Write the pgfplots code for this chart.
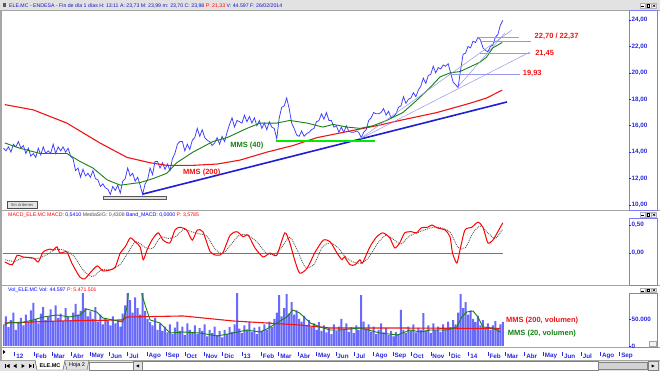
\documentclass[border=0pt]{standalone}
\usepackage{fontspec}
\setmainfont{Liberation Sans}
\usepackage{pgfplots}
\pgfplotsset{compat=1.18}
\usepackage{pgfplotstable}
\definecolor{axblue}{RGB}{40,40,225}
\definecolor{pricecol}{RGB}{60,60,255}
\definecolor{mmsgreen}{RGB}{20,130,20}
\definecolor{mmsred}{RGB}{240,20,20}
\definecolor{trendblue}{RGB}{30,30,215}
\definecolor{supgreen}{RGB}{0,235,0}
\definecolor{fanblue}{RGB}{150,150,235}
\definecolor{frame}{RGB}{165,165,165}
\definecolor{barbg}{RGB}{226,226,226}
\definecolor{volblue}{RGB}{105,105,250}
\definecolor{boxblue}{RGB}{125,125,250}
\definecolor{titleblue}{RGB}{20,20,200}
\definecolor{zeroblue}{RGB}{100,100,245}
\newcommand\titlefont{\fontsize{5.2}{6}\selectfont}
\newcommand\tickfont{\fontsize{6.3}{7}\selectfont\bfseries}
\newcommand\lblfont{\fontsize{7.5}{8}\selectfont\bfseries}
\newcommand\winbtns[1]{%
\begin{scope}[shift={(0pt,#1pt)}]
\foreach \bx in {640,645.7,651.4}{\draw[gray!60,fill=gray!8,line width=0.3pt] (\bx pt,0pt) rectangle ++(5pt,4.5pt);}
\draw[black,line width=0.7pt] (641.2pt,1.2pt) -- (643.8pt,1.2pt);
\draw[black,line width=0.5pt] (646.9pt,1pt) rectangle (649.5pt,3.5pt);
\draw[black,line width=0.5pt] (652.6pt,1pt) -- (655.2pt,3.5pt) (652.6pt,3.5pt) -- (655.2pt,1pt);
\end{scope}}
\pgfplotsset{panel/.style={scale only axis, width=626pt, xmin=-18.8, xmax=989.2,
  anchor=south west, axis line style={draw=none}, xtick=\empty,
  ytick pos=right, yticklabel pos=right, tick align=outside, major tick length=2pt,
  ytick style={draw=axblue, line width=0.6pt},
  yticklabel style={font=\tickfont, text=axblue, anchor=west, inner sep=0.5pt},
  /pgf/number format/assume math mode=true}}
\begin{document}
\pgfplotstableread{
d p
-18 14.3
-14 14.1
-10 14.4
-6 14.0
-2 14.6
2 14.4
6 14.8
10 14.3
14 14.5
18 13.9
22 14.3
26 13.7
30 13.9
34 13.6
38 14.3
42 13.8
46 14.4
50 13.9
54 14.1
58 13.9
62 14.6
66 13.9
70 14.4
74 14.1
78 14.4
82 14.0
86 14.3
90 13.7
94 13.5
98 12.6
102 12.8
106 12.1
110 12.7
114 12.2
118 12.4
122 12.1
126 12.6
130 12.0
134 11.9
138 11.4
142 11.6
146 11.3
150 11.2
154 10.8
158 11.4
162 11.1
166 11.5
170 10.9
174 11.8
178 12.0
182 12.8
186 12.2
190 12.4
194 11.8
198 12.1
202 11.5
206 10.8
210 11.6
214 11.9
218 12.8
222 12.3
226 13.3
230 13.3
234 12.8
238 13.2
242 12.7
246 13.1
250 12.6
254 13.5
258 13.9
262 14.6
266 14.8
270 14.8
274 14.1
278 14.6
282 14.2
286 14.9
290 15.1
294 15.8
298 15.2
302 15.7
306 15.1
310 14.9
314 14.8
318 14.5
322 14.7
326 15.1
330 14.6
334 15.2
338 14.8
342 15.5
346 16.1
350 16.6
354 15.9
358 16.4
362 16.3
366 16.2
370 16.8
374 16.3
378 16.7
382 16.2
386 16.6
390 16.0
394 16.4
398 15.8
402 16.2
406 15.7
410 16.3
414 15.9
418 15.8
422 15.0
426 16.6
430 17.4
434 17.5
438 18.1
442 17.3
446 16.2
450 15.8
454 15.3
458 15.2
462 15.6
466 15.2
470 15.4
474 15.5
478 15.7
482 15.8
486 16.3
490 16.4
494 16.9
498 16.5
502 17.0
506 16.4
510 16.4
514 15.9
518 16.0
522 15.5
526 15.9
530 15.5
534 16.0
538 15.6
542 15.5
546 15.5
550 15.6
554 15.5
558 15.1
562 15.5
566 15.7
570 16.4
574 16.6
578 17.0
582 16.9
586 16.9
590 17.0
594 17.3
598 16.8
602 17.1
606 16.6
610 16.7
614 16.9
618 17.4
622 17.5
626 18.2
630 17.7
634 18.0
638 18.1
642 18.5
646 18.2
650 18.7
654 19.0
658 19.6
662 19.2
666 19.8
670 19.9
674 20.5
678 20.0
682 20.4
686 20.3
690 20.6
694 20.5
698 20.7
702 20.0
706 19.3
710 19.1
714 18.9
718 20.2
722 21.4
726 21.5
730 22.0
734 21.9
738 22.4
742 22.3
746 22.7
750 22.5
754 21.9
758 21.7
762 21.6
766 22.0
770 22.1
774 22.7
778 22.9
782 23.6
786 23.98
}\price
\pgfplotstableread{
d p
-16 14.7
8 14.3
41 13.9
84 13.9
105 13.3
126 12.8
149 11.9
170 11.5
202 11.7
223 12.0
245 12.4
261 13.2
287 14.0
319 14.8
342 15.1
374 15.8
395 16.2
422 16.2
443 16.4
471 16.2
496 15.9
513 16.1
535 15.9
556 15.8
577 16.0
599 16.4
625 17.0
648 17.95
669 18.9
685 19.7
701 20.0
717 20.1
733 20.45
749 20.8
760 21.2
770 21.9
785 22.3
}\mmsforty
\pgfplotstableread{
d p
-16 17.6
30 17.2
84 16.2
137 14.7
181 13.6
218 13.2
245 13.0
287 13.0
326 13.1
363 13.4
406 14.0
448 14.5
487 15.1
524 15.45
556 15.75
588 16.05
620 16.4
680 17.0
733 17.7
760 18.1
785 18.7
}\mmsdos
\pgfplotstableread{
d v
-16 -0.16
-4 -0.21
4 -0.04
13 -0.07
30 -0.09
38 -0.16
46 0.02
57 0.07
62 0.05
68 0.11
73 0.00
84 0.02
92 -0.18
105 -0.43
113 -0.46
121 -0.36
133 -0.23
142 -0.32
154 -0.30
162 -0.25
170 0.00
178 0.11
186 0.27
194 0.20
202 0.11
207 -0.12
213 0.05
221 0.23
231 0.36
239 0.23
250 0.18
258 0.41
266 0.46
277 0.41
286 0.23
294 0.41
303 0.38
315 0.02
326 -0.04
335 0.00
347 0.32
358 0.38
368 0.29
376 0.32
387 0.09
400 -0.07
411 0.00
422 -0.04
435 0.36
443 0.18
451 -0.13
459 -0.36
471 -0.27
484 0.02
497 0.23
508 0.20
519 0.00
527 -0.12
531 -0.07
540 -0.21
548 -0.21
556 -0.12
560 -0.18
572 0.11
583 0.29
593 0.36
604 0.27
612 0.09
620 0.18
628 0.36
639 0.38
647 0.36
655 0.45
665 0.46
672 0.50
680 0.45
693 0.41
701 0.29
705 0.00
712 -0.18
717 0.05
725 0.41
736 0.46
746 0.55
754 0.46
762 0.18
770 0.23
778 0.38
786 0.54
}\macd
\pgfplotstableread{
d v
-15 -0.12
0 -0.15
15 -0.08
35 -0.10
50 -0.04
65 0.06
80 0.05
95 -0.05
110 -0.30
125 -0.42
140 -0.30
155 -0.30
170 -0.20
182 0.00
195 0.20
210 0.10
222 0.08
235 0.28
248 0.26
260 0.30
272 0.42
285 0.38
298 0.34
310 0.30
322 0.08
335 -0.01
348 0.15
362 0.32
375 0.32
390 0.20
405 0.00
418 -0.02
430 0.10
443 0.28
455 0.05
468 -0.25
482 -0.20
495 0.10
508 0.18
520 0.10
532 -0.06
545 -0.16
558 -0.18
570 -0.08
585 0.18
598 0.32
610 0.24
622 0.16
635 0.30
648 0.36
662 0.42
675 0.46
690 0.44
702 0.36
714 0.10
726 0.10
738 0.36
750 0.48
762 0.36
774 0.26
786 0.43
}\signal
\pgfplotstableread{
d v
-18 40000
-14 55000
-10 35000
-6 48000
-2 62000
2 30000
6 44000
10 52000
14 38000
18 58000
22 45000
26 66000
30 80000
34 50000
38 42000
42 60000
46 72000
50 48000
54 55000
58 68000
62 44000
66 75000
70 52000
74 60000
78 46000
82 70000
86 55000
90 48000
94 62000
98 78000
102 58000
106 65000
110 98000
114 70000
118 55000
122 64000
126 50000
130 72000
134 45000
138 58000
142 40000
146 52000
150 46000
154 38000
158 55000
162 42000
166 48000
170 36000
174 60000
178 75000
182 140000
186 85000
190 62000
194 90000
198 70000
202 58000
206 135000
210 65000
214 50000
218 44000
222 38000
226 52000
230 30000
234 42000
238 28000
242 36000
246 25000
250 40000
254 22000
258 34000
262 45000
266 28000
270 36000
274 20000
278 42000
282 30000
286 26000
290 38000
294 22000
298 33000
302 28000
306 40000
310 18000
314 30000
318 24000
322 36000
326 20000
330 28000
334 16000
338 30000
342 22000
346 35000
350 26000
354 40000
358 98000
362 32000
366 24000
370 38000
374 30000
378 44000
382 26000
386 34000
390 22000
394 36000
398 28000
402 40000
406 30000
410 45000
414 35000
418 50000
422 62000
426 94000
430 55000
434 70000
438 96000
442 60000
446 81000
450 58000
454 66000
458 50000
462 45000
466 56000
470 38000
474 48000
478 35000
482 42000
486 30000
490 44000
494 28000
498 38000
502 25000
506 34000
510 22000
514 40000
518 28000
522 36000
526 50000
530 30000
534 42000
538 26000
542 35000
546 24000
550 38000
554 30000
558 94000
562 45000
566 32000
570 40000
574 26000
578 36000
582 22000
586 30000
590 42000
594 25000
598 33000
602 20000
606 28000
610 18000
614 26000
618 22000
622 67000
626 30000
630 24000
634 36000
638 28000
642 40000
646 25000
650 34000
654 30000
658 61000
662 28000
666 38000
670 24000
674 42000
678 30000
682 36000
686 26000
690 40000
694 32000
698 45000
702 35000
706 48000
710 40000
714 62000
718 96000
722 70000
726 81000
730 58000
734 66000
738 50000
742 44000
746 56000
750 38000
754 48000
758 34000
762 42000
766 30000
770 38000
774 46000
778 32000
782 40000
786 44597
}\vol
\pgfplotstableread{
d v
-16 38900
-8 44400
8 42600
30 48200
46 53700
68 57400
89 53700
105 57400
116 68500
132 63000
142 51900
158 48200
174 44400
181 72200
183 98000
186 159000
202 159000
205 94500
210 75900
218 48200
234 42600
250 24100
271 25900
298 24100
326 18500
352 24100
374 29600
395 25900
406 31500
422 42600
438 53700
448 66700
459 61100
476 42600
492 35200
508 29600
524 29600
556 33300
588 24100
616 20400
637 29600
653 25900
669 29600
696 29600
712 35200
720 53700
728 63000
738 64800
746 53700
754 35200
770 33300
782 25900
}\mmsvolv
\pgfplotstableread{
d v
-16 42600
73 46300
174 48200
181 53700
271 55600
352 46300
406 42600
459 38900
508 33300
620 33300
782 32400
}\mmsvold
\begin{tikzpicture}
\useasboundingbox (0,0) rectangle (660pt,371pt);
\fill[white] (0,0) rectangle (660pt,371pt);
% title bar
\fill[barbg] (0,361pt) rectangle (660pt,371pt);
\draw[frame,line width=0.8pt] (0,361pt) -- (660pt,361pt);
\fill[black!65] (2.5pt,364pt) rectangle (5.5pt,367.5pt);
\node[anchor=west,inner sep=0pt,font=\titlefont,text=titleblue] at (9pt,365.5pt)
 {ELE.MC - ENDESA - Fin de día 1 días H: 13:11 A: 23,73 M: 23,99 m: 23,70 C: 23,98 {\color{red}P: 21,33} V: 44.597 F: 26/02/2014};
\winbtns{363}
% left frame
\fill[frame] (0,11pt) rectangle (2pt,361pt);
% separators
\draw[frame,line width=1pt] (0,160.5pt) -- (660pt,160.5pt);
\draw[frame,line width=1pt] (0,85pt) -- (660pt,85pt);
\draw[frame,line width=1pt] (0,23.5pt) -- (660pt,23.5pt);
% right boxes
\draw[boxblue,line width=0.8pt] (629pt,161pt) rectangle (657pt,361pt);
\draw[boxblue,line width=0.8pt] (629pt,86pt) rectangle (657pt,153pt);
\draw[boxblue,line width=0.8pt] (629pt,24pt) rectangle (657pt,77.5pt);
\winbtns{154}
\winbtns{78.5}
\draw[gray!70,fill=gray!10,line width=0.3pt] (649.5pt,24.5pt) rectangle (656.5pt,29.5pt);
% ---------------- price panel
\begin{axis}[panel, at={(3pt,161pt)}, height=200pt, ymin=9.621, ymax=24.762,
  ytick={10,12,...,24},
  yticklabel style={/pgf/number format/.cd,fixed,fixed zerofill,precision=2,use comma}]
\addplot[pricecol, line width=0.75pt] table[x=d,y=p]{\price};
\addplot[mmsred, line width=1.1pt] table[x=d,y=p]{\mmsdos};
\addplot[mmsgreen, line width=0.9pt] table[x=d,y=p]{\mmsforty};
\addplot[trendblue, line width=1.6pt] coordinates {(206.6,10.83) (792.8,17.80)};
\addplot[supgreen, line width=2.6pt] coordinates {(420.8,14.84) (580.2,14.84)};
\addplot[fanblue, line width=0.5pt] coordinates {(556,15.0) (800.8,23.25)};
\addplot[fanblue, line width=0.5pt] coordinates {(556,15.0) (829.8,21.58)};
\addplot[fanblue, line width=0.5pt] coordinates {(712.2,18.86) (789.5,23.02)};
\addplot[fanblue, line width=0.5pt] coordinates {(745,22.70) (812,22.70)};
\addplot[fanblue, line width=0.5pt] coordinates {(750,22.37) (832,22.37)};
\addplot[fanblue, line width=0.5pt] coordinates {(750,21.45) (830,21.45)};
\addplot[fanblue, line width=0.5pt] coordinates {(700,19.93) (814,19.93)};
\draw[gray!70!black, fill=gray!25, line width=0.5pt] (axis cs:142.2,10.45) rectangle (axis cs:243.6,10.68);
\node[anchor=west,inner sep=0pt,font=\lblfont,text=mmsred] at (axis cs:837,22.8) {22,70 / 22,37};
\node[anchor=west,inner sep=0pt,font=\lblfont,text=mmsred] at (axis cs:838,21.47) {21,45};
\node[anchor=west,inner sep=0pt,font=\lblfont,text=mmsred] at (axis cs:818,19.95) {19,93};
\node[anchor=west,inner sep=0pt,font=\lblfont,text=mmsgreen] at (axis cs:347,14.47) {MMS (40)};
\node[anchor=west,inner sep=0pt,font=\lblfont,text=mmsred] at (axis cs:271,12.42) {MMS (200)};
\end{axis}
% Sin ordenes button
\draw[gray!60!black,fill=gray!20,line width=0.4pt] (7pt,163pt) rectangle (37pt,170pt);
\node[inner sep=0pt,font=\fontsize{4.2}{5}\selectfont,text=black!70] at (22pt,166.5pt) {Sin órdenes};
% ---------------- MACD panel
\begin{axis}[panel, at={(3pt,86pt)}, height=67pt, ymin=-0.571, ymax=0.625,
  ytick={0,0.5},
  yticklabel style={/pgf/number format/.cd,fixed,fixed zerofill,precision=2,use comma}]
\addplot[zeroblue, line width=0.8pt] coordinates {(-18,0) (786,0)};
\addplot[gray!70!black, densely dotted, line width=0.9pt, smooth, tension=0.5] table[x=d,y=v]{\signal};
\addplot[red, line width=1.0pt, smooth, tension=0.4] table[x=d,y=v]{\macd};
\end{axis}
\node[anchor=west,inner sep=0pt,font=\titlefont] at (8pt,156pt)
 {{\color{red}MACD\_ELE.MC MACD:} {\color{blue}0,5410} {\color{black!70}MediaSIG: 0,4308} {\color{blue}Band\_MACD: 0,0000} {\color{red}P: 3,5785}};
% ---------------- Volume panel
\begin{axis}[panel, at={(3pt,24pt)}, height=53.5pt, ymin=-1852, ymax=97200,
  ytick={0,50000}, scaled y ticks=false,
  yticklabel style={/pgf/number format/.cd,fixed,precision=0,1000 sep={.}}]
\addplot[ybar, bar width=2pt, fill=volblue, draw=none] table[x=d,y=v]{\vol};
\addplot[mmsred, line width=1.1pt] table[x=d,y=v]{\mmsvold};
\addplot[mmsgreen, line width=0.9pt] table[x=d,y=v]{\mmsvolv};
\node[anchor=west,inner sep=0pt,font=\lblfont,text=mmsred] at (axis cs:791,46900) {MMS (200, volumen)};
\node[anchor=west,inner sep=0pt,font=\lblfont,text=mmsgreen] at (axis cs:794,23500) {MMS (20, volumen)};
\end{axis}
\node[anchor=west,inner sep=0pt,font=\titlefont] at (8pt,81pt)
 {{\color{blue}Vol\_ELE.MC Vol: 44.597} {\color{red}P: 5.471.501}};
% ---------------- month strip
\begin{axis}[scale only axis, width=626pt, height=4pt, at={(3pt,15pt)}, anchor=south west,
  xmin=-18.8, xmax=989.2, ymin=0, ymax=1, axis line style={draw=none}, ytick=\empty,
  xtick={0,31,60,91,121,152,182,213,244,274,305,335,366,397,425,456,486,517,547,578,609,639,670,700,731,762,790,821,851,882,912,943,974},
  xticklabels={12,Feb,Mar,Abr,May,Jun,Jul,Ago,Sep,Oct,Nov,Dic,13,Feb,Mar,Abr,May,Jun,Jul,Ago,Sep,Oct,Nov,Dic,14,Feb,Mar,Abr,May,Jun,Jul,Ago,Sep},
  xtick pos=bottom, xtick align=inside, major tick length=4pt,
  xtick style={draw=axblue, line width=0.5pt},
  xticklabel style={font=\tickfont, text=axblue, anchor=west, inner sep=0pt, xshift=1.5pt, yshift=0pt}]
\addplot[draw=none] coordinates {(0,0.5)};
\end{axis}
\fill[black] (3pt,17pt) -- (3pt,21pt) -- (5.5pt,19pt) -- cycle;
% ---------------- tab bar
\fill[barbg] (0,0) rectangle (660pt,11pt);
\draw[frame,line width=0.5pt] (0,11pt) -- (660pt,11pt);
\fill[black] (5pt,3pt) rectangle (5.8pt,7pt);
\fill[black] (9.5pt,3pt) -- (9.5pt,7pt) -- (6.3pt,5pt) -- cycle;
\fill[black] (16.5pt,3pt) -- (16.5pt,7pt) -- (13.3pt,5pt) -- cycle;
\fill[black] (21.5pt,3pt) -- (21.5pt,7pt) -- (24.7pt,5pt) -- cycle;
\fill[black] (29pt,3pt) -- (29pt,7pt) -- (32.2pt,5pt) -- cycle;
\fill[black] (32.6pt,3pt) rectangle (33.4pt,7pt);
\draw[black!70,fill=white,line width=0.4pt] (35pt,11pt) -- (37pt,1pt) -- (63pt,1pt) -- (65pt,11pt);
\node[inner sep=0pt,font=\fontsize{5.5}{6}\selectfont\bfseries] at (50pt,5.5pt) {ELE.MC};
\draw[black!60,line width=0.4pt] (65pt,9pt) -- (67pt,1pt) -- (87pt,1pt) -- (89pt,11pt);
\node[inner sep=0pt,font=\fontsize{5.5}{6}\selectfont] at (77pt,5.5pt) {Hoja 2};
\draw[black!50,fill=white,line width=0.4pt] (89pt,1pt) rectangle (133pt,9pt);
\draw[black!50,fill=barbg,line width=0.4pt] (133pt,1pt) rectangle (142pt,9.5pt);
\fill[black] (139pt,3.5pt) -- (139pt,6.5pt) -- (136pt,5pt) -- cycle;
\draw[black!50,fill=white,line width=0.4pt] (142pt,1pt) rectangle (598pt,9.5pt);
\draw[black!50,fill=gray!35,line width=0.4pt] (598pt,1.5pt) rectangle (647pt,9pt);
\draw[black!50,fill=barbg,line width=0.4pt] (648pt,1pt) rectangle (658pt,9.5pt);
\fill[black] (651.5pt,3.5pt) -- (651.5pt,6.5pt) -- (654.5pt,5pt) -- cycle;
\end{tikzpicture}
\end{document}
